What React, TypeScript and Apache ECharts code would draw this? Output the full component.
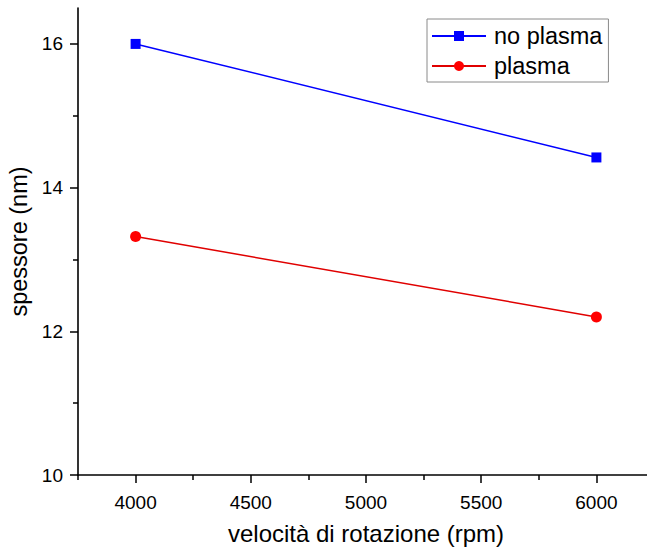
import React, { useEffect, useRef } from "react";
import * as echarts from "echarts";

const speeds = [4000, 6000];
const noPlasma = [16.0, 14.42];
const plasma = [13.32, 12.2];
const xMajorTicks = [4000, 4500, 5000, 5500, 6000];
const xMinorTicks = [3750, 4250, 4750, 5250, 5750, 6250];
const yMajorTicks = [10, 12, 14, 16];
const yMinorTicks = [11, 13, 15];
const seriesNames = ["no plasma", "plasma"];
const xTitle = "velocità di rotazione (rpm)";
const yTitle = "spessore (nm)";

const FONT = 'Arial, "Liberation Sans", sans-serif';

export default function App() {
  const ref = useRef<HTMLDivElement>(null);
  useEffect(() => {
    if (!ref.current) return;
    const chart = echarts.init(ref.current, null, { renderer: "svg" });
    const axisLine = { show: true, onZero: false, lineStyle: { color: "#000", width: 1.6 } };
    const fmt = (v: number) => String(v);
    chart.setOption({
      animation: false,
      backgroundColor: "#fff",
      grid: { left: 78, top: 8, width: 576, height: 467, outerBoundsMode: "none", containLabel: false },
      legend: {
        orient: "vertical",
        left: 427,
        top: 19,
        padding: [5, 6, 4, 4],
        itemGap: 6,
        itemWidth: 54,
        itemHeight: 12.5,
        borderColor: "#8a8a8a",
        borderWidth: 1,
        data: seriesNames,
        textStyle: { fontFamily: FONT, fontSize: 23.5, color: "#000", padding: [0, 0, 0, 3] },
      },
      xAxis: [
        {
          type: "value",
          min: 3750,
          max: 6250,
          interval: 250,
          axisLine,
          splitLine: { show: false },
          axisTick: { show: true, inside: false, length: 8, customValues: xMajorTicks, lineStyle: { color: "#000", width: 1.5 } },
          axisLabel: { customValues: xMajorTicks, formatter: fmt, margin: 18, fontFamily: FONT, fontSize: 19, color: "#000" },
          name: xTitle,
          nameLocation: "middle",
          nameGap: 46,
          nameTextStyle: { fontFamily: FONT, fontSize: 24, color: "#000" },
        },
        {
          type: "value",
          position: "bottom",
          min: 3750,
          max: 6250,
          interval: 250,
          axisLine: { show: false, onZero: false },
          splitLine: { show: false },
          axisTick: { show: true, length: 5, customValues: xMinorTicks, lineStyle: { color: "#000", width: 1.5 } },
          axisLabel: { show: false },
        },
      ],
      yAxis: [
        {
          type: "value",
          position: "left",
          min: 10,
          max: 16.5,
          interval: 1,
          axisLine,
          splitLine: { show: false },
          axisTick: { show: true, length: 8, customValues: yMajorTicks, lineStyle: { color: "#000", width: 1.5 } },
          axisLabel: { customValues: yMajorTicks, formatter: fmt, margin: 15, fontFamily: FONT, fontSize: 19, color: "#000" },
          name: yTitle,
          nameLocation: "middle",
          nameGap: 43,
          nameTextStyle: { fontFamily: FONT, fontSize: 23.5, color: "#000" },
        },
        {
          type: "value",
          position: "left",
          min: 10,
          max: 16.5,
          interval: 1,
          axisLine: { show: false, onZero: false },
          splitLine: { show: false },
          axisTick: { show: true, length: 5, customValues: yMinorTicks, lineStyle: { color: "#000", width: 1.5 } },
          axisLabel: { show: false },
        },
      ],
      series: [
        {
          name: seriesNames[0],
          type: "line",
          data: speeds.map((s, i) => [s, noPlasma[i]]),
          symbol: "rect",
          symbolSize: 10,
          color: "#0000ff",
          lineStyle: { color: "#0000ff", width: 1.5 },
          itemStyle: { color: "#0000ff" },
        },
        {
          name: seriesNames[1],
          type: "line",
          data: speeds.map((s, i) => [s, plasma[i]]),
          symbol: "circle",
          symbolSize: 11,
          color: "#ff0000",
          lineStyle: { color: "#e00000", width: 1.5 },
          itemStyle: { color: "#ff0000" },
        },
      ],
    });
    return () => chart.dispose();
  }, []);
  return (
    <div
      ref={ref}
      style={{ position: "absolute", left: 0, top: 0, width: 647, height: 550, background: "#fff" }}
    />
  );
}
